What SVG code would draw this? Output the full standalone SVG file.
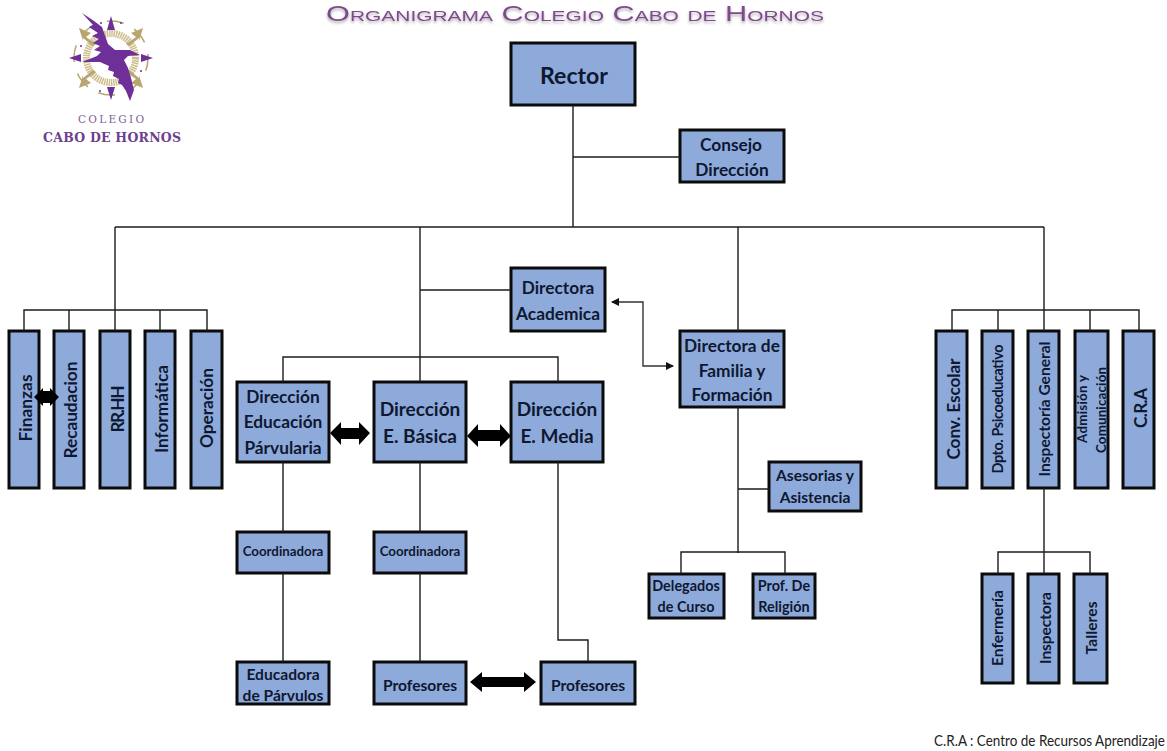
<svg xmlns="http://www.w3.org/2000/svg" width="1167" height="751" viewBox="0 0 1167 751">
<style>
text{font-family:"Lato","Carlito","Noto Sans",sans-serif;font-weight:700;fill:#0e1830;text-anchor:middle}
.b{fill:#8eaadb;stroke:#0b0b0b;stroke-width:3}
.c{fill:none;stroke:#1c1c1c;stroke-width:1.4}
.a{fill:#000}
.s13{font-size:13.3px}.s14{font-size:14.4px}.s15{font-size:15.6px}.s16{font-size:16px}.s17{font-size:17.3px}.s19{font-size:19px}
.p{fill:#6f2f98}.g{fill:#b9a56f}
</style>
<defs>
<marker id="tip" markerWidth="9" markerHeight="9" refX="7" refY="4" orient="auto-start-reverse" markerUnits="userSpaceOnUse"><path d="M0 0L8 4L0 8z" fill="#111"/></marker>
<filter id="soft" x="-5%" y="-30%" width="110%" height="170%"><feGaussianBlur in="SourceAlpha" stdDeviation="1.6"/><feOffset dy="1.5"/><feComponentTransfer><feFuncA type="linear" slope=".35"/></feComponentTransfer><feMerge><feMergeNode/><feMergeNode in="SourceGraphic"/></feMerge></filter>
</defs>
<rect width="1167" height="751" fill="#fff"/>
<g id="logo">
<circle cx="111" cy="58" r="24.5" fill="none" stroke="#cdbc8c" stroke-width="7" stroke-dasharray="1.5 .8"/>
<circle cx="111" cy="58" r="37" fill="none" stroke="#b9a56f" stroke-width="1.5" stroke-dasharray="17 12" stroke-dashoffset="4"/>
<path class="g" d="M143 28L131 33L136 37L126 44L129 46L139 38L139 41zM79 28L91 33L86 37L96 44L93 46L83 38L83 41zM79 88L91 83L86 79L96 72L93 70L83 78L83 75zM143 88L131 83L136 79L126 72L129 70L139 78L139 75z"/>
<path class="p" d="M111 16L115 30H107zM111 100L107 87H115zM69 58L81 54V62zM153 58L141 54V62z"/>
<circle class="p" cx="101" cy="23" r="1"/><circle class="p" cx="121" cy="23" r="1"/><circle class="p" cx="81" cy="46" r="1"/><circle class="p" cx="141" cy="71" r="1"/><circle class="p" cx="100" cy="91" r="1"/>
<path class="p" d="M82 13L94 21L102 27L108 44L115 50L130 50L140 55L128 56L124 60L128 68L131 78L134 90L130 101L126 91L122 85L118 83L119 79L113 76L114 72L108 70L109 66L100 62L82 62L97 56L101 52L94 50L100 46L93 43L99 39L92 36L98 33L89 27L93 25z"/>
<text x="111" y="123" textLength="66" lengthAdjust="spacing" style="font-family:'DejaVu Serif',serif;font-size:10.5px;font-weight:400;fill:#80609a">COLEGIO</text>
<text x="112" y="142" textLength="138" lengthAdjust="spacing" style="font-family:'DejaVu Serif',serif;font-size:12.5px;font-weight:700;fill:#6d3f8c">CABO DE HORNOS</text>
</g>
<text id="title" x="575" y="21" filter="url(#soft)" style="font-family:'Liberation Sans',sans-serif;font-size:22px;font-weight:400;font-variant:small-caps;fill:#7f4a8c" textLength="498" lengthAdjust="spacingAndGlyphs">Organigrama Colegio Cabo de Hornos</text>
<g id="rector"><rect class="b" x="511" y="43" width="124" height="62"/><text x="574" y="84" textLength="68" lengthAdjust="spacingAndGlyphs" style="font-size:23px">Rector</text></g>
<g id="consejo"><rect class="b" x="680" y="130" width="104" height="52"/><text class="s17" x="731" y="151">Consejo</text><text class="s17" x="732" y="176">Dirección</text></g>
<g id="academica"><rect class="b" x="511" y="268" width="94" height="63"/><text class="s17" x="558" y="294">Directora</text><text class="s17" x="558" y="320">Academica</text></g>
<g id="familia"><rect class="b" x="680" y="331" width="104" height="76"/><text class="s17" x="732" y="352">Directora de</text><text class="s17" x="732" y="377">Familia y</text><text class="s17" x="732" y="401">Formación</text></g>
<g id="finanzas"><rect class="b" x="9" y="331" width="30" height="157"/><text class="s17" textLength="67" transform="translate(32 408) rotate(-90)">Finanzas</text></g>
<g id="recaudacion"><rect class="b" x="54" y="331" width="30" height="157"/><text class="s17" textLength="97" transform="translate(77 410) rotate(-90)">Recaudacion</text></g>
<g id="rrhh"><rect class="b" x="100" y="331" width="30" height="157"/><text class="s17" textLength="47" transform="translate(124 409) rotate(-90)">RR.HH</text></g>
<g id="informatica"><rect class="b" x="145" y="331" width="30" height="157"/><text class="s17" textLength="88" transform="translate(168 409) rotate(-90)">Informática</text></g>
<g id="operacion"><rect class="b" x="191" y="331" width="31" height="157"/><text class="s17" textLength="80" transform="translate(213 408) rotate(-90)">Operación</text></g>
<g id="parvularia"><rect class="b" x="237" y="382" width="92" height="80"/><text class="s17" x="283" y="403">Dirección</text><text class="s17" x="283" y="428">Educación</text><text class="s17" x="283" y="454">Párvularia</text></g>
<g id="basica"><rect class="b" x="374" y="382" width="92" height="80"/><text class="s19" x="420" y="416">Dirección</text><text class="s19" x="420" y="443">E. Básica</text></g>
<g id="media"><rect class="b" x="511" y="382" width="92" height="80"/><text class="s19" x="557" y="416">Dirección</text><text class="s19" x="557" y="443">E. Media</text></g>
<g id="coord1"><rect class="b" x="237" y="532" width="92" height="41"/><text class="s13" x="283" y="556">Coordinadora</text></g>
<g id="coord2"><rect class="b" x="374" y="532" width="92" height="41"/><text class="s13" x="420" y="556">Coordinadora</text></g>
<g id="educadora"><rect class="b" x="237" y="662" width="92" height="42"/><text class="s15" x="283" y="680">Educadora</text><text class="s15" x="283" y="701">de Párvulos</text></g>
<g id="profesores1"><rect class="b" x="374" y="662" width="92" height="42"/><text class="s15" x="420" y="691">Profesores</text></g>
<g id="profesores2"><rect class="b" x="541" y="662" width="94" height="42"/><text class="s15" x="588" y="691">Profesores</text></g>
<g id="asesorias"><rect class="b" x="769" y="462" width="92" height="49"/><text class="s15" x="815" y="481">Asesorias y</text><text class="s15" x="815" y="503">Asistencia</text></g>
<g id="delegados"><rect class="b" x="649" y="574" width="75" height="44"/><text class="s14" x="686" y="591">Delegados</text><text class="s14" x="686" y="612">de Curso</text></g>
<g id="religion"><rect class="b" x="753" y="574" width="62" height="44"/><text class="s14" x="784" y="591">Prof. De</text><text class="s14" x="784" y="612">Religión</text></g>
<g id="conv"><rect class="b" x="936" y="331" width="31" height="157"/><text class="s17" textLength="101" transform="translate(960 409) rotate(-90)">Conv. Escolar</text></g>
<g id="dpto"><rect class="b" x="982" y="331" width="31" height="157"/><text class="s14" textLength="129" transform="translate(1003 409) rotate(-90)">Dpto. Psicoeducativo</text></g>
<g id="inspectoria"><rect class="b" x="1028" y="331" width="31" height="157"/><text class="s15" textLength="135" transform="translate(1050 409) rotate(-90)">Inspectoría General</text></g>
<g id="admision"><rect class="b" x="1075" y="331" width="33" height="157"/><text class="s13" textLength="68" transform="translate(1087 409) rotate(-90)">Admisión y</text><text class="s13" textLength="86" transform="translate(1106 410) rotate(-90)">Comunicación</text></g>
<g id="cra"><rect class="b" x="1123" y="331" width="31" height="157"/><text class="s17" textLength="40" transform="translate(1147 408) rotate(-90)">C.R.A</text></g>
<g id="enfermeria"><rect class="b" x="982" y="574" width="31" height="109"/><text class="s15" textLength="76" transform="translate(1003 628) rotate(-90)">Enfermería</text></g>
<g id="inspectora"><rect class="b" x="1028" y="574" width="31" height="109"/><text class="s15" textLength="72" transform="translate(1051 628) rotate(-90)">Inspectora</text></g>
<g id="talleres"><rect class="b" x="1074" y="574" width="33" height="109"/><text class="s15" textLength="53" transform="translate(1097 628) rotate(-90)">Talleres</text></g>
<g id="connectors">
<path class="c" d="M573 105V227M573 157H680M115 227H1044M115 227V310M420 227V382M738 227V331M1044 227V310"/>
<path class="c" d="M24 331V310H207V331M69 310V331M115 310V331M160 310V331"/>
<path class="c" d="M952 331V310H1139V331M998 310V331M1090 310V331M1044 310V331"/>
<path class="c" d="M420 290H511M283 382V357H558V382"/>
<path class="c" d="M283 462V532M283 573V662M420 462V532M420 573V662M558 462V640H588V662"/>
<path class="c" d="M738 407V553M738 489H769M681 574V552H785V574"/>
<path class="c" d="M1044 488V574M998 574V552H1090V574"/>
<path d="M612 302H643V366H673" fill="none" stroke="#333" stroke-width="1.4" marker-start="url(#tip)" marker-end="url(#tip)"/>
<path class="a" d="M34 397L43 388V391H50V388L59 397L50 406V403H43V406z"/>
<path class="a" d="M330 433L341 422V428H359V422L370 433L359 445V439H341V445z"/>
<path class="a" d="M467 436L478 424V430H500V424L511 436L500 447V441H478V447z"/>
<path class="a" d="M470 682L482 672V677H524V672L536 682L524 692V687H482V692z"/>
</g>
<text id="nota" transform="translate(1049.5 746) scale(.87 1)" style="font-size:15.5px;font-weight:400;fill:#222">C.R.A : Centro de Recursos Aprendizaje</text>
</svg>
